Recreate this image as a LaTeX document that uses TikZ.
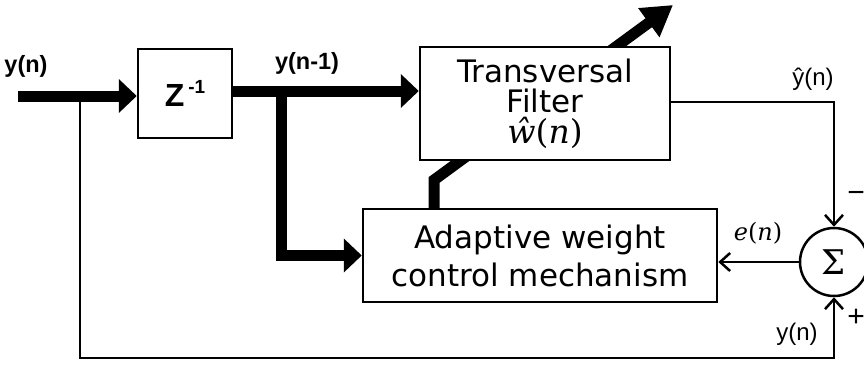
\documentclass[tikz,border=0pt]{standalone}
\usepackage{fontspec}
\setmainfont{DejaVu Sans}
\newfontfamily\lab{Liberation Sans}
\newfontfamily\serifmath{DejaVu Serif}
\usetikzlibrary{arrows.meta}
\tikzset{
  box/.style={draw, line width=2.5pt, fill=white, inner sep=0pt, align=center},
  fat/.style={line width=11pt, line join=miter, -{Triangle[length=18pt,width=33pt]}},
  slim/.style={line width=2.5pt, -{Straight Barb[length=10pt,width=18pt]}},
  boldlab/.style={font=\lab\bfseries\fontsize{23.5}{23.5}\selectfont, anchor=base, inner sep=0pt},
  plainlab/.style={font=\lab\fontsize{24}{24}\selectfont, anchor=base, inner sep=0pt},
}
\begin{document}
\begin{tikzpicture}[x=1pt,y=-1pt]
\useasboundingbox (0,0) rectangle (864,365);

% blocks
\node[box, minimum width=94pt, minimum height=89pt] (zbox) at (185,93.5)
  {\lab\bfseries\fontsize{32}{32}\selectfont Z\hspace{4pt}\raisebox{13pt}{\fontsize{19}{19}\selectfont -1}};
\node[box, minimum width=354pt, minimum height=93pt,
      font=\fontsize{31}{38}\selectfont] (adapt) at (540,255.5)
  {Adaptive weight\\control mechanism};

% adjustment arrow (behind the filter)
\coordinate (bend) at (434,180);
\coordinate (tip) at (673,5);
\draw[fat, -{Triangle[length=30pt,width=34pt]}] (adapt.north -| bend) -- (bend) -- (tip);

\node[box, minimum width=250pt, minimum height=113pt,
      font=\fontsize{31}{30}\selectfont] (filter) at (545,103.5)
  {Transversal\\Filter\\[1pt]{\serifmath\fontsize{33}{33}\selectfont\itshape ŵ\upshape(\itshape n\upshape)}};

\node[draw, circle, line width=2.5pt, minimum size=68pt, inner sep=0pt, fill=white,
      font=\serifmath\fontsize{34}{34}\selectfont] (sum) at (834,262) {Σ};

% signal paths
\coordinate (in) at (18,96);
\coordinate (tap) at (80,96);
\coordinate (bl) at (80,358);
\coordinate (zout) at (232,91);
\coordinate (br) at (281,91);
\coordinate (fout) at (670,102);

\draw[fat] (in) -- (in -| zbox.west);
\draw[fat] (zout) -- (zout -| filter.west);
\draw[fat] (br) |- (adapt.west);
\draw[slim] (tap) -- (bl) -| (sum.south);
\draw[slim] (fout) -| (sum.north);
\draw[slim] (sum.west) -- (sum.west -| adapt.east);

% labels
\node[boldlab] (lyin) at (26,72) {y(n)};
\node[boldlab] (lyn1) at (307,69) {y(n-1)};
\node[plainlab] (lyhat) at (813,85) {ŷ(n)};
\node[plainlab] (lyout) at (797,340) {y(n)};
\node[anchor=base, inner sep=0pt, font=\serifmath\fontsize{24}{24}\selectfont] (len) at (758,240)
  {\itshape e\upshape(\itshape n\upshape)};
\node[inner sep=0pt, font=\lab\fontsize{30}{30}\selectfont] (lminus) at (856,197) {\textminus};
\node[inner sep=0pt, font=\lab\fontsize{30}{30}\selectfont] (lplus) at (856,318) {+};
\end{tikzpicture}
\end{document}
